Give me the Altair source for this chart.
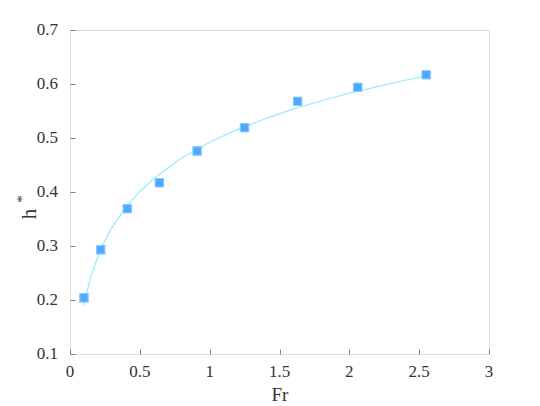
import altair as alt
import pandas as pd

fr = [0.10, 0.22, 0.41, 0.64, 0.91, 1.25, 1.63, 2.06, 2.55]
h = [0.204, 0.293, 0.369, 0.417, 0.476, 0.519, 0.568, 0.594, 0.617]
err = [0.008, 0.008, 0.004, 0.004, 0.008, 0.004, 0.004, 0.004, 0.004]

fit_fr = [0.10, 0.12, 0.15, 0.20, 0.25, 0.30, 0.40, 0.50, 0.60, 0.80, 1.00, 1.20,
          1.40, 1.60, 1.80, 2.00, 2.20, 2.40, 2.55]
fit_h = [0.190, 0.214, 0.243, 0.281, 0.310, 0.334, 0.372, 0.401, 0.425, 0.463,
         0.492, 0.516, 0.536, 0.554, 0.569, 0.583, 0.595, 0.607, 0.615]

x_ticks = [0, 0.5, 1, 1.5, 2, 2.5, 3]
x_tick_labels = ["0", "0.5", "1", "1.5", "2", "2.5", "3"]
y_ticks = [0.1, 0.2, 0.3, 0.4, 0.5, 0.6, 0.7]
y_tick_labels = ["0.1", "0.2", "0.3", "0.4", "0.5", "0.6", "0.7"]

pts = pd.DataFrame({"Fr": fr, "h": h,
                    "lo": [a - b for a, b in zip(h, err)],
                    "hi": [a + b for a, b in zip(h, err)]})
fit = pd.DataFrame({"Fr": fit_fr, "h": fit_h})
xt = pd.DataFrame({"v": x_ticks, "t": x_tick_labels})
yt = pd.DataFrame({"v": y_ticks, "t": y_tick_labels})

FONT = "Times New Roman"
TXT = "#333333"
xs = alt.Scale(domain=[0, 3], nice=False, zero=False)
ys = alt.Scale(domain=[0.1, 0.7], nice=False, zero=False)

xaxis = alt.Axis(values=x_ticks, domain=False, labels=False,
                 grid=False, offset=-5, tickSize=5, tickColor="#808080", title=None)
yaxis = alt.Axis(values=y_ticks, domain=False, labels=False,
                 grid=False, offset=-5, tickSize=5, tickColor="#808080", title=None)

line = alt.Chart(fit).mark_line(color="#96ecff", strokeWidth=1.2).encode(
    x=alt.X("Fr:Q", scale=xs, axis=xaxis),
    y=alt.Y("h:Q", scale=ys, axis=yaxis),
)

bars = alt.Chart(pts).mark_rule(color="#9fcfff", strokeWidth=1).encode(
    x=alt.X("Fr:Q", scale=xs, axis=xaxis), y=alt.Y("lo:Q", scale=ys, axis=yaxis), y2="hi:Q")
cap_lo = alt.Chart(pts).mark_tick(color="#9fcfff", orient="horizontal", size=11,
                                  thickness=1).encode(
    x=alt.X("Fr:Q", scale=xs, axis=xaxis), y=alt.Y("lo:Q", scale=ys, axis=yaxis))
cap_hi = alt.Chart(pts).mark_tick(color="#9fcfff", orient="horizontal", size=11,
                                  thickness=1).encode(
    x=alt.X("Fr:Q", scale=xs, axis=xaxis), y=alt.Y("hi:Q", scale=ys, axis=yaxis))

marks = alt.Chart(pts).mark_point(shape="square", filled=True, size=70,
                                  color="#4eaaff", opacity=1,
                                  stroke="#8cc8ff", strokeWidth=1).encode(
    x=alt.X("Fr:Q", scale=xs, axis=xaxis), y=alt.Y("h:Q", scale=ys, axis=yaxis))

xlab = alt.Chart(xt).mark_text(font=FONT, fontSize=17, color=TXT, baseline="middle",
                               align="center").encode(
    x=alt.X("v:Q", scale=xs, axis=xaxis), y=alt.value(342), text="t:N")
ylab = alt.Chart(yt).mark_text(font=FONT, fontSize=17, color=TXT, baseline="middle",
                               align="right").encode(
    y=alt.Y("v:Q", scale=ys, axis=yaxis), x=alt.value(-12), text="t:N")

xtitle = alt.Chart(pd.DataFrame({"t": ["Fr"]})).mark_text(
    font=FONT, fontSize=19, color=TXT, baseline="middle").encode(
    text="t:N", x=alt.value(210), y=alt.value(365))
ytitle = alt.Chart(pd.DataFrame({"t": ["h"]})).mark_text(
    font=FONT, fontSize=21, angle=270, color=TXT, baseline="middle").encode(
    text="t:N", x=alt.value(-40), y=alt.value(184))
ystar = alt.Chart(pd.DataFrame({"t": ["*"]})).mark_text(
    font=FONT, fontSize=15, angle=270, color=TXT, baseline="middle").encode(
    text="t:N", x=alt.value(-48), y=alt.value(169))

chart = alt.layer(line, bars, cap_lo, cap_hi, marks, xlab, ylab,
                  xtitle, ytitle, ystar).properties(
    width=419, height=324, autosize=alt.AutoSizeParams(type="none"),
    padding={"left": 62, "top": 22, "right": 43, "bottom": 52},
).configure_view(stroke="#808080", strokeWidth=1).configure(background="white")

chart.save("out.html", embed_options={"renderer": "svg", "actions": False})
